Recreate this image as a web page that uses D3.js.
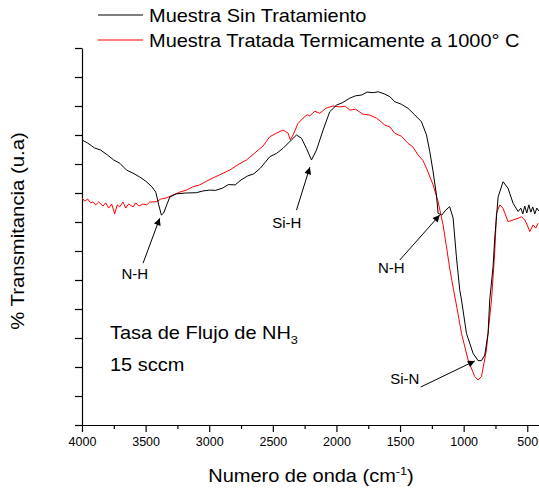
<!DOCTYPE html>
<html>
<head>
<meta charset="utf-8">
<script src="https://cdn.jsdelivr.net/npm/d3@7"></script>
<style>
html,body{margin:0;padding:0;background:#fff;}
svg{display:block;font-family:"Liberation Sans",Arial,sans-serif;}
</style>
</head>
<body>
<svg id="chart" width="539" height="491"></svg>
<script>
// ---- data (wavenumber cm^-1, transmittance arbitrary units) ----
const blackWn = [4000,3955,3900,3853,3800,3751,3704,3650,3601,3546,3499,3450,3420,3397,3376,3358,3334,3310,3258,3185,3101,3050,2996,2950,2894,2850,2796,2750,2697,2650,2597,2560,2524,2470,2420,2354,2314,2275,2236,2196,2157,2105,2053,2000,1950,1895,1850,1801,1760,1712,1670,1620,1580,1542,1490,1437,1384,1332,1292,1266,1240,1214,1201,1172,1141,1110,1083,1057,1031,1017,978,926,887,860,834,808,795,769,755,729,690,651,611,572,551,535,520,504,488,472,457,441,425,409];
const blackT  = [98.3,97.2,95.5,94.8,93.1,91.4,90.3,87.9,86.9,85.5,84.1,82.1,80.3,75.9,72.4,73.1,75.9,78.6,79.7,80.0,80.1,80.7,81.0,80.9,81.7,82.9,82.8,84.5,85.9,86.6,88.6,90.6,92.5,93.7,95.4,98.3,100.0,98.9,95.4,91.4,94.8,101.7,108.0,110.3,111.2,112.7,113.5,113.8,114.8,114.6,114.9,114.1,113.2,111.5,110.6,109.2,106.9,104.6,100.0,94.2,87.3,79.3,73.0,72.4,74.1,75.3,71.4,58.0,46.6,43.1,31.6,24.7,22.2,22.2,24.1,31.7,43.1,54.6,64.9,78.7,83.9,81.6,76.4,73.6,74.8,72.8,75.5,73.1,75.9,73.4,75.2,72.8,74.8,73.8];

const redWn = [4000,3979,3955,3932,3914,3892,3869,3835,3814,3790,3767,3743,3723,3704,3678,3656,3633,3599,3578,3554,3520,3491,3468,3415,3381,3336,3285,3232,3179,3130,3075,3020,2970,2902,2839,2776,2707,2642,2577,2524,2469,2420,2380,2362,2341,2302,2263,2230,2210,2170,2131,2080,2027,1974,1930,1895,1850,1793,1740,1685,1650,1620,1580,1542,1490,1437,1400,1358,1320,1292,1240,1201,1162,1137,1110,1082,1057,1017,965,913,887,860,821,795,781,755,742,716,690,651,611,572,545,520,504,480,454,433,415];
const redT  = [78.3,77.2,77.9,76.6,76.9,75.9,76.9,75.5,76.6,74.8,76.2,72.8,75.9,75.2,76.9,74.8,76.2,75.2,76.6,75.5,76.2,75.9,76.9,77.0,77.9,78.3,79.3,80.3,81.0,82.1,82.8,84.1,85.2,86.6,87.9,89.7,91.4,93.8,96.2,99.4,100.7,101.7,100.6,98.3,100.0,104.0,105.8,107.0,106.6,108.2,107.5,109.3,110.0,109.7,109.9,108.6,108.9,107.2,106.9,105.8,104.6,103.4,102.8,100.6,99.6,97.1,95.9,93.1,91.2,88.5,82.8,77.0,69.0,62.0,54.1,47.2,41.4,31.6,22.4,16.7,15.5,16.7,25.9,37.3,43.1,60.3,73.0,75.9,74.7,70.1,70.7,71.3,71.8,70.7,69.3,66.7,69.0,67.9,69.6];

const xTickValues = [4000,3500,3000,2500,2000,1500,1000,500];
const xMinorTicks = [3750,3250,2750,2250,1750,1250,750];
const yTickValues = [0,10,20,30,40,50,60,70,80,90,100,110,120,130];

const seriesNames = ["Muestra Sin Tratamiento","Muestra Tratada Termicamente a 1000° C"];
const seriesColors = ["#000000","#ff0000"];

// annotations: label, label position (wn,T), arrow tail (wn,T), arrow tip (wn,T)
const annLabels = ["N-H","Si-H","N-H","Si-N"];
const annLabelWn = [3585,2390,1569,1463];
const annLabelT  = [50.3,67.9,52.4,14.1];
const annTailWn = [3520,2314,1502,1337];
const annTailT  = [55.8,74.1,56.9,13.1];
const annTipWn  = [3389,2209,1188,912];
const annTipT   = [71.3,88.9,72.4,22.1];

// ---- chart ----
const svg = d3.select("#chart");
const font = '"Liberation Sans",Arial,sans-serif';
const SX = 1.11; // horizontal text stretch seen in the reference

const x = d3.scaleLinear().domain([4000,400]).range([82,540]);
const y = d3.scaleLinear().domain([0,130]).range([425,48]);

const defs = svg.append("defs");
defs.append("marker").attr("id","ah").attr("viewBox","0 0 10 10")
  .attr("refX",10).attr("refY",5).attr("markerWidth",9).attr("markerHeight",7)
  .attr("markerUnits","userSpaceOnUse").attr("orient","auto")
  .append("path").attr("d","M0,0 L10,5 L0,10 z").attr("fill","#000");

// x axis
const xAxis = d3.axisBottom(x).tickValues(xTickValues).tickSize(7).tickSizeOuter(0).tickPadding(5).tickFormat(d3.format("d"));
const gx = svg.append("g").attr("transform","translate(0,425)").call(xAxis);
gx.selectAll("text").attr("font-size","12.5px").attr("font-family",font).attr("fill","#000");
gx.select(".domain").attr("stroke","#000").attr("stroke-width",1.2);
gx.selectAll(".tick line").attr("stroke","#000").attr("stroke-width",1.2);
const xMinor = d3.axisBottom(x).tickValues(xMinorTicks).tickSize(4).tickFormat("");
const gxm = svg.append("g").attr("transform","translate(0,425)").call(xMinor);
gxm.select(".domain").remove();
gxm.selectAll(".tick line").attr("stroke","#000").attr("stroke-width",1.2);

// y axis
const yAxis = d3.axisLeft(y).tickValues(yTickValues).tickSize(7).tickSizeOuter(0).tickFormat("");
const gy = svg.append("g").attr("transform","translate(82,0)").call(yAxis);
gy.select(".domain").attr("stroke","#000").attr("stroke-width",1.2);
gy.selectAll(".tick line").attr("stroke","#000").attr("stroke-width",1.2);

// lines
const line = d3.line().x(d => x(d[0])).y(d => y(d[1]));
const redData = redWn.map((w,i)=>[w,redT[i]]);
const blackData = blackWn.map((w,i)=>[w,blackT[i]]);
const plot = svg.append("g");
plot.append("path").datum(redData).attr("d",line).attr("fill","none").attr("stroke",seriesColors[1]).attr("stroke-width",1).attr("stroke-linejoin","round");
plot.append("path").datum(blackData).attr("d",line).attr("fill","none").attr("stroke",seriesColors[0]).attr("stroke-width",1).attr("stroke-linejoin","round");

// annotations
annLabels.forEach((lab,i)=>{
  svg.append("line")
    .attr("x1",x(annTailWn[i])).attr("y1",y(annTailT[i]))
    .attr("x2",x(annTipWn[i])).attr("y2",y(annTipT[i]))
    .attr("stroke","#000").attr("stroke-width",1).attr("marker-end","url(#ah)");
  svg.append("text").attr("x",x(annLabelWn[i])).attr("y",y(annLabelT[i]))
    .attr("text-anchor","middle").attr("font-size","15px").attr("font-family",font).text(lab);
});

// helper for stretched text
function stretched(px, py, anchor) {
  return svg.append("g").attr("transform",`translate(${px},${py}) scale(${SX},1)`)
    .append("text").attr("x",0).attr("y",0).attr("text-anchor",anchor||"start")
    .attr("font-size","18px").attr("font-family",font);
}

// in-plot text
const t1 = stretched(110,339);
t1.append("tspan").text("Tasa de Flujo de NH");
t1.append("tspan").attr("font-size","11.5px").attr("dy",5).text("3");
stretched(110,371).text("15 sccm");

// legend
seriesNames.forEach((n,i)=>{
  const yy = 15 + i*25;
  svg.append("line").attr("x1",98).attr("x2",143).attr("y1",yy).attr("y2",yy)
    .attr("stroke",seriesColors[i]).attr("stroke-width",1.2);
  stretched(149,yy+6.5).text(n);
});

// axis titles
const xt = stretched(311,482,"middle");
xt.append("tspan").text("Numero de onda (cm");
xt.append("tspan").attr("font-size","11.5px").attr("dy",-7).text("-1");
xt.append("tspan").attr("dy",7).text(")");

svg.append("g").attr("transform","translate(24,231) rotate(-90) scale(1.13,1)")
  .append("text").attr("text-anchor","middle")
  .attr("font-size","18px").attr("font-family",font).text("% Transmitancia (u.a)");
</script>
</body>
</html>
